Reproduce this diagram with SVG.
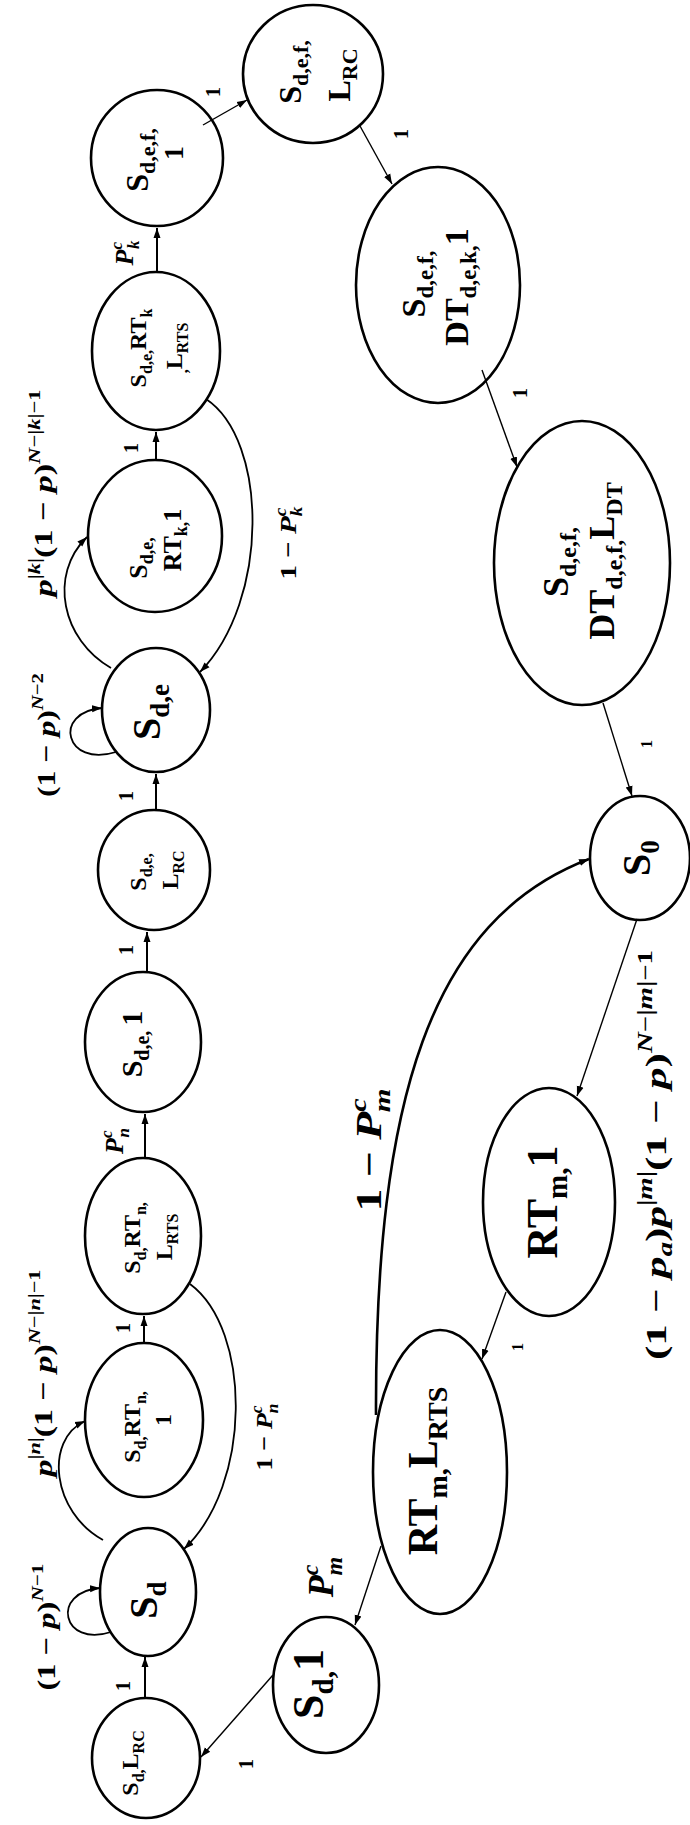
<svg xmlns="http://www.w3.org/2000/svg" width="690" height="1825" viewBox="0 0 690 1825">
<defs>
<style>
.nd{fill:none;stroke:#000;stroke-width:2.6}
.t{font-family:"Liberation Serif","Times New Roman",serif;font-weight:bold;text-anchor:middle;fill:#000}
.i{font-style:italic}
.e{fill:none;stroke:#000;stroke-width:1.4}
.ev{fill:none;stroke:#000;stroke-width:2}
.ec{fill:none;stroke:#000;stroke-width:1.8}
.eb{fill:none;stroke:#000;stroke-width:2.6}
</style>
<marker id="a" viewBox="0 0 10 10" refX="10" refY="5" markerWidth="10" markerHeight="10" markerUnits="userSpaceOnUse" orient="auto"><path d="M0,1.5 L10,5 L0,8.5 z" fill="#000"/></marker>
</defs>
<rect width="690" height="1825" fill="#fff"/>

<g id="connectors">
<path class="ev" d="M145 1698 L145 1657" marker-end="url(#a)"/>
<path class="ec" d="M111 1632 C62 1648 50 1592 100 1588" marker-end="url(#a)"/>
<path class="ec" d="M103 1540 C52 1512 44 1440 85 1421" marker-end="url(#a)"/>
<path class="ev" d="M144 1343 L144 1316" marker-end="url(#a)"/>
<path class="ec" d="M190 1284 C252 1330 252 1485 184 1549" marker-end="url(#a)"/>
<path class="ev" d="M145 1158 L145 1114" marker-end="url(#a)"/>
<path class="ev" d="M147 972 L147 932" marker-end="url(#a)"/>
<path class="ev" d="M156 810 L156 774" marker-end="url(#a)"/>
<path class="ec" d="M116 752 C65 768 52 712 102 708" marker-end="url(#a)"/>
<path class="ec" d="M111 668 C62 640 48 575 87 537" marker-end="url(#a)"/>
<path class="ev" d="M156 460 L156 432" marker-end="url(#a)"/>
<path class="ec" d="M206 399 C268 440 270 600 200 672" marker-end="url(#a)"/>
<path class="ev" d="M157 272 L157 228" marker-end="url(#a)"/>
<path class="e" d="M203 125 L247 100" marker-end="url(#a)"/>
<path class="e" d="M360 126 L392 184" marker-end="url(#a)"/>
<path class="e" d="M482 370 L517 467" marker-end="url(#a)"/>
<path class="e" d="M603 703 L632 796" marker-end="url(#a)"/>
<path class="e" d="M637 919 L577 1096" marker-end="url(#a)"/>
<path class="e" d="M506 1292 L482 1359" marker-end="url(#a)"/>
<path class="eb" d="M376 1415 C375 1100 430 920 589 859" marker-end="url(#a)"/>
<path class="e" d="M381 1546 L355 1625" marker-end="url(#a)"/>
<path class="e" d="M273 1675 L201 1757" marker-end="url(#a)"/>

<g id="edge-labels">
<text class="t" font-size="20" transform="translate(130,1686) rotate(-90)">1</text>
<text class="t" font-size="26" transform="translate(55,1627) rotate(-90)" textLength="127" lengthAdjust="spacingAndGlyphs">(1 − <tspan class="i">p</tspan>)<tspan font-size="17" dy="-12"><tspan class="i">N</tspan>−1</tspan></text>
<text class="t" font-size="26" transform="translate(52,1373) rotate(-90)" textLength="207" lengthAdjust="spacingAndGlyphs"><tspan class="i">p</tspan><tspan font-size="17" dy="-12">|<tspan class="i">n</tspan>|</tspan><tspan dy="12">(1 − </tspan><tspan class="i">p</tspan>)<tspan font-size="17" dy="-12"><tspan class="i">N</tspan>−|<tspan class="i">n</tspan>|−1</tspan></text>
<text class="t" font-size="20" transform="translate(130,1328) rotate(-90)">1</text>
<text class="t" font-size="24" transform="translate(272,1437) rotate(-90)" textLength="67" lengthAdjust="spacingAndGlyphs">1 − <tspan class="i">P</tspan><tspan class="i" font-size="16" dy="-10">c</tspan><tspan class="i" font-size="16" dx="-7" dy="16">n</tspan></text>
<text class="t" font-size="26" transform="translate(123,1141) rotate(-90)"><tspan class="i">P</tspan><tspan class="i" font-size="17" dy="-11">c</tspan><tspan class="i" font-size="17" dx="-7" dy="17">n</tspan></text>
<text class="t" font-size="20" transform="translate(133,950) rotate(-90)">1</text>
<text class="t" font-size="20" transform="translate(133,796) rotate(-90)">1</text>
<text class="t" font-size="26" transform="translate(55,735) rotate(-90)" textLength="124" lengthAdjust="spacingAndGlyphs">(1 − <tspan class="i">p</tspan>)<tspan font-size="17" dy="-12"><tspan class="i">N</tspan>−2</tspan></text>
<text class="t" font-size="26" transform="translate(52,493) rotate(-90)" textLength="207" lengthAdjust="spacingAndGlyphs"><tspan class="i">p</tspan><tspan font-size="17" dy="-12">|<tspan class="i">k</tspan>|</tspan><tspan dy="12">(1 − </tspan><tspan class="i">p</tspan>)<tspan font-size="17" dy="-12"><tspan class="i">N</tspan>−|<tspan class="i">k</tspan>|−1</tspan></text>
<text class="t" font-size="20" transform="translate(138,448) rotate(-90)">1</text>
<text class="t" font-size="24" transform="translate(296,543) rotate(-90)" textLength="73" lengthAdjust="spacingAndGlyphs">1 − <tspan class="i">P</tspan><tspan class="i" font-size="16" dy="-10">c</tspan><tspan class="i" font-size="16" dx="-7" dy="16">k</tspan></text>
<text class="t" font-size="26" transform="translate(133,253) rotate(-90)"><tspan class="i">P</tspan><tspan class="i" font-size="17" dy="-11">c</tspan><tspan class="i" font-size="17" dx="-7" dy="17">k</tspan></text>
<text class="t" font-size="20" transform="translate(220,92) rotate(-90)">1</text>
<text class="t" font-size="20" transform="translate(408,134) rotate(-90)">1</text>
<text class="t" font-size="20" transform="translate(527,393) rotate(-90)">1</text>
<text class="t" font-size="16" transform="translate(652,744) rotate(-90)">1</text>
<text class="t" font-size="30" transform="translate(666,1155) rotate(-90)" textLength="410" lengthAdjust="spacingAndGlyphs">(1 − <tspan class="i">p</tspan><tspan class="i" font-size="20" dy="6">a</tspan><tspan dy="-6">)</tspan><tspan class="i">p</tspan><tspan font-size="20" dy="-14">|<tspan class="i">m</tspan>|</tspan><tspan dy="14">(1 − </tspan><tspan class="i">p</tspan>)<tspan font-size="20" dy="-14"><tspan class="i">N</tspan>−|<tspan class="i">m</tspan>|−1</tspan></text>
<text class="t" font-size="16" transform="translate(523,1347) rotate(-90)">1</text>
<text class="t" font-size="36" transform="translate(381,1150) rotate(-90)" textLength="123" lengthAdjust="spacingAndGlyphs">1 − <tspan class="i">P</tspan><tspan class="i" font-size="24" dy="-15">c</tspan><tspan class="i" font-size="24" dx="-11" dy="24">m</tspan></text>
<text class="t" font-size="36" transform="translate(333,1577) rotate(-90)"><tspan class="i">P</tspan><tspan class="i" font-size="24" dy="-15">c</tspan><tspan class="i" font-size="24" dx="-11" dy="24">m</tspan></text>
<text class="t" font-size="20" transform="translate(253,1764) rotate(-90)">1</text>
</g>
</g>

<g id="n-sd-lrc">
<ellipse class="nd" cx="146" cy="1758" rx="54" ry="60"/>
<text class="t" font-size="24" transform="translate(138,1763) rotate(-90)">S<tspan font-size="16" dy="6">d,</tspan><tspan dy="-6">L</tspan><tspan font-size="16" dy="6">RC</tspan></text>
</g>
<g id="n-sd">
<ellipse class="nd" cx="148" cy="1592" rx="48" ry="64"/>
<text class="t" font-size="40" transform="translate(157,1600) rotate(-90)">S<tspan font-size="27" dy="9">d</tspan></text>
</g>
<g id="n-sd-rtn-1">
<ellipse class="nd" cx="144" cy="1420" rx="59" ry="77"/>
<text class="t" font-size="24" transform="translate(140,1427) rotate(-90)">S<tspan font-size="16" dy="6">d,</tspan><tspan dy="-6">RT</tspan><tspan font-size="16" dy="6">n,</tspan></text>
<text class="t" font-size="24" transform="translate(171,1420) rotate(-90)">1</text>
</g>
<g id="n-sd-rtn-lrts">
<ellipse class="nd" cx="143" cy="1236" rx="58" ry="78"/>
<text class="t" font-size="24" transform="translate(140,1238) rotate(-90)">S<tspan font-size="16" dy="6">d,</tspan><tspan dy="-6">RT</tspan><tspan font-size="16" dy="6">n,</tspan></text>
<text class="t" font-size="24" transform="translate(172,1237) rotate(-90)">L<tspan font-size="16" dy="6">RTS</tspan></text>
</g>
<g id="n-sde-1">
<ellipse class="nd" cx="143" cy="1042" rx="58" ry="70"/>
<text class="t" font-size="30" transform="translate(142,1044) rotate(-90)">S<tspan font-size="20" dy="7">d,e, </tspan><tspan dy="-7">1</tspan></text>
</g>
<g id="n-sde-lrc">
<ellipse class="nd" cx="154" cy="870" rx="56" ry="60"/>
<text class="t" font-size="24" transform="translate(146,872) rotate(-90)">S<tspan font-size="16" dy="6">d,e,</tspan></text>
<text class="t" font-size="24" transform="translate(178,870) rotate(-90)">L<tspan font-size="16" dy="6">RC</tspan></text>
</g>
<g id="n-sde">
<ellipse class="nd" cx="156" cy="710" rx="54" ry="62"/>
<text class="t" font-size="40" transform="translate(160,712) rotate(-90)">S<tspan font-size="27" dy="9">d,e</tspan></text>
</g>
<g id="n-sde-rtk-1">
<ellipse class="nd" cx="155" cy="536" rx="67" ry="76"/>
<text class="t" font-size="26" transform="translate(147,558) rotate(-90)">S<tspan font-size="18" dy="6">d,e,</tspan></text>
<text class="t" font-size="26" transform="translate(181,540) rotate(-90)">RT<tspan font-size="18" dy="6">k,</tspan><tspan dy="-6">1</tspan></text>
</g>
<g id="n-sde-rtk-lrts">
<ellipse class="nd" cx="156" cy="351" rx="64" ry="79"/>
<text class="t" font-size="24" transform="translate(146,348) rotate(-90)">S<tspan font-size="16" dy="6">d,e,</tspan><tspan dy="-6">RT</tspan><tspan font-size="16" dy="6">k</tspan></text>
<text class="t" font-size="24" transform="translate(182,348) rotate(-90)"><tspan font-size="16" dy="6">,</tspan><tspan dy="-6">L</tspan><tspan font-size="16" dy="6">RTS</tspan></text>
</g>
<g id="n-sdef-1">
<ellipse class="nd" cx="157" cy="158" rx="66" ry="68"/>
<text class="t" font-size="32" transform="translate(148,160) rotate(-90)">S<tspan font-size="22" dy="7">d,e,f,</tspan></text>
<text class="t" font-size="28" transform="translate(183,153) rotate(-90)">1</text>
</g>
<g id="n-sdef-lrc">
<ellipse class="nd" cx="313" cy="74" rx="70" ry="69"/>
<text class="t" font-size="32" transform="translate(301,72) rotate(-90)">S<tspan font-size="22" dy="7">d,e,f,</tspan></text>
<text class="t" font-size="32" transform="translate(350,75) rotate(-90)">L<tspan font-size="22" dy="7">RC</tspan></text>
</g>
<g id="n-sdef-dt1">
<ellipse class="nd" cx="438" cy="285" rx="82" ry="118"/>
<text class="t" font-size="34" transform="translate(425,284) rotate(-90)">S<tspan font-size="23" dy="8">d,e,f,</tspan></text>
<text class="t" font-size="34" transform="translate(468,287) rotate(-90)">DT<tspan font-size="23" dy="8">d,e,k,</tspan><tspan dy="-8">1</tspan></text>
</g>
<g id="n-sdef-ldt">
<ellipse class="nd" cx="582" cy="563" rx="88" ry="142"/>
<text class="t" font-size="36" transform="translate(568,562) rotate(-90)">S<tspan font-size="24" dy="8">d,e,f,</tspan></text>
<text class="t" font-size="36" transform="translate(614,561) rotate(-90)">DT<tspan font-size="24" dy="8">d,e,f,</tspan><tspan dy="-8">L</tspan><tspan font-size="24" dy="8">DT</tspan></text>
</g>
<g id="n-s0">
<ellipse class="nd" cx="640" cy="858" rx="50" ry="62"/>
<text class="t" font-size="40" transform="translate(650,858) rotate(-90)">S<tspan font-size="27" dy="9">0</tspan></text>
</g>
<g id="n-rtm-1">
<ellipse class="nd" cx="549" cy="1202" rx="66" ry="114"/>
<text class="t" font-size="44" transform="translate(557,1202) rotate(-90)">RT<tspan font-size="29" dy="10">m,</tspan><tspan dy="-10">1</tspan></text>
</g>
<g id="n-rtm-lrts">
<ellipse class="nd" cx="440" cy="1472" rx="67" ry="142"/>
<text class="t" font-size="42" transform="translate(437,1471) rotate(-90)">RT<tspan font-size="28" dy="10">m,</tspan><tspan dy="-10">L</tspan><tspan font-size="28" dy="10">RTS</tspan></text>
</g>
<g id="n-sd-1">
<ellipse class="nd" cx="326" cy="1685" rx="53" ry="68"/>
<text class="t" font-size="44" transform="translate(323,1684) rotate(-90)">S<tspan font-size="29" dy="10">d,</tspan><tspan dy="-10">1</tspan></text>
</g>
</svg>
